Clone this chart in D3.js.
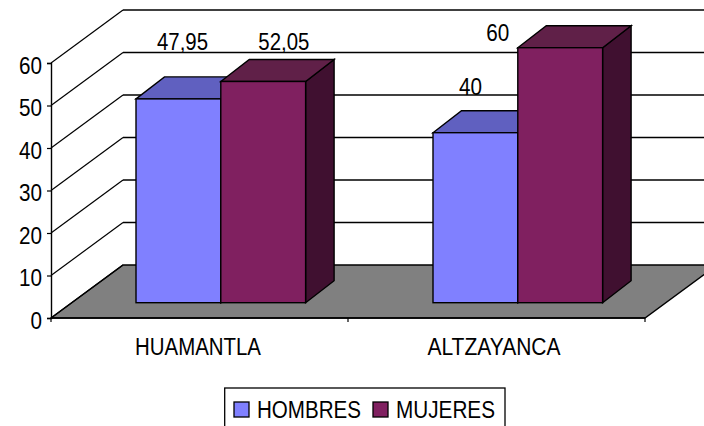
<!DOCTYPE html>
<html><head><meta charset="utf-8">
<script src="https://cdn.jsdelivr.net/npm/d3@7"></script>
<style>html,body{margin:0;padding:0;background:#fff}svg{display:block}text{font-family:"Liberation Sans",Arial,sans-serif;fill:#000}</style>
</head><body><svg id="c" width="704" height="426"></svg>
<script>
const categories = ["HUAMANTLA", "ALTZAYANCA"];
const seriesNames = ["HOMBRES", "MUJERES"];
const hombres = [47.95, 40];
const mujeres = [52.05, 60];
const valueLabels = [["47,95", "40"], ["52,05", "60"]];
const yTicks = [0, 10, 20, 30, 40, 50, 60];

const frontColors = ["#8080ff", "#802060"];
const topColors = ["#6060c0", "#602048"];
const sideColors = ["#404080", "#401030"];
const svg = d3.select("#c");

const L = 51, R = 645, BASE = 318, TOP = 63;
const wallDx = 72, wallDy = -53;
const barDx = 28.5, barDy = -22;
const barBase = 302.7;
const FS = 24.5;
const y = d3.scaleLinear().domain([0, 60]).range([BASE, TOP]);
const x0 = d3.scaleBand().domain(categories).range([L, R]);
const h = v => y(0) - y(v);
const clipId = "clip";
svg.append("defs").append("clipPath").attr("id", clipId).append("rect").attr("width", 704).attr("height", 426);
const g = svg.append("g").attr("clip-path", `url(#${clipId})`);
const poly = pts => pts.map(p => p.join(",")).join(" ");
const edge = {stroke: "#000", "stroke-width": 1.4, "stroke-linejoin": "miter"};
const apply = (s, o) => { Object.entries(o).forEach(([k, v]) => s.attr(k, v)); return s; };

// floor
apply(g.append("polygon").attr("points", poly([[L, BASE], [R, BASE], [R + wallDx, BASE + wallDy], [L + wallDx, BASE + wallDy]])).attr("fill", "#808080"), edge);

// gridlines on walls
yTicks.forEach(t => {
  const yy = y(t);
  if (t > 0) g.append("line").attr("x1", L + wallDx).attr("x2", 704).attr("y1", yy + wallDy).attr("y2", yy + wallDy).attr("stroke", "#000").attr("stroke-width", 1.3);
  g.append("line").attr("x1", L).attr("x2", L + wallDx).attr("y1", yy).attr("y2", yy + wallDy).attr("stroke", "#000").attr("stroke-width", 1.2);
});

// axes
const yAxis = d3.axisLeft(y).tickValues(yTicks).tickSize(4).tickPadding(5).tickFormat(d3.format("d"));
const ya = svg.append("g").attr("transform", `translate(${L},0)`).call(yAxis);
ya.select(".domain").attr("stroke", "#000").attr("stroke-width", 1.4);
ya.selectAll(".tick line").attr("stroke", "#000").attr("stroke-width", 1.2);
ya.selectAll("text").attr("font-size", FS).attr("font-family", "Liberation Sans").attr("textLength", 23).attr("lengthAdjust", "spacingAndGlyphs").attr("dy", "0.42em");
ya.selectAll(".tick").filter(d => d === 0).select("text").attr("textLength", 11.5);

const xa = svg.append("g").attr("transform", `translate(0,${BASE})`);
xa.append("line").attr("x1", L).attr("x2", R).attr("stroke", "#000").attr("stroke-width", 1.6);
[L, x0(categories[1]), R].forEach(px => xa.append("line").attr("x1", px).attr("x2", px).attr("y1", 0).attr("y2", 4).attr("stroke", "#000").attr("stroke-width", 1.2));
const catWidths = [126, 133];
categories.forEach((c, i) => {
  xa.append("text").attr("x", x0(c) + x0.bandwidth() / 2 + (i ? -2.5 : -1.5)).attr("y", 36.5).attr("text-anchor", "middle")
    .attr("font-size", FS).attr("textLength", catWidths[i]).attr("lengthAdjust", "spacingAndGlyphs").text(c);
});

// bars
const groupPad = 85, barW = 84.8;
const series = [hombres, mujeres];
function drawBar(cat, si) {
  const v = series[si][cat];
  const x1 = x0(categories[cat]) + groupPad + si * barW;
  const x2 = x1 + barW, top = barBase - h(v);
  const b = svg.append("g");
  apply(b.append("polygon").attr("points", poly([[x2, barBase], [x2 + barDx, barBase + barDy], [x2 + barDx, top + barDy], [x2, top]])).attr("fill", sideColors[si]), edge);
  apply(b.append("polygon").attr("points", poly([[x1, top], [x1 + barDx, top + barDy], [x2 + barDx, top + barDy], [x2, top]])).attr("fill", topColors[si]), edge);
  apply(b.append("rect").attr("x", x1).attr("y", top).attr("width", barW).attr("height", barBase - top).attr("fill", frontColors[si]), edge);
}
[0, 1].forEach(c => { drawBar(c, 0); drawBar(c, 1); });

// data labels (placed as in the original, off the bars)
const labelShift = [[[46.5, -49], [63, -31]], [[37.5, -38], [-20, -7]]];
categories.forEach((c, ci) => [0, 1].forEach(si => {
  const x1 = x0(c) + groupPad + si * barW;
  const top = barBase - h(series[si][ci]);
  const [dx, dy] = labelShift[ci][si];
  const s = valueLabels[si][ci];
  svg.append("text").attr("x", x1 + dx).attr("y", top + dy).attr("text-anchor", "middle")
    .attr("font-size", FS).attr("textLength", s.length > 2 ? 51 : 23).attr("lengthAdjust", "spacingAndGlyphs").text(s);
}));

// legend
const leg = svg.append("g");
leg.append("rect").attr("x", 224.7).attr("y", 388).attr("width", 280.3).attr("height", 42).attr("fill", "#fff").attr("stroke", "#000").attr("stroke-width", 1.3);
const legX = [234, 373], legW = [104, 99];
seriesNames.forEach((n, i) => {
  leg.append("rect").attr("x", legX[i]).attr("y", 402).attr("width", 15).attr("height", 15).attr("fill", frontColors[i]).attr("stroke", "#000").attr("stroke-width", 1.3);
  leg.append("text").attr("x", legX[i] + 23).attr("y", 418).attr("font-size", FS).attr("textLength", legW[i]).attr("lengthAdjust", "spacingAndGlyphs").text(n);
});
</script></body></html>
